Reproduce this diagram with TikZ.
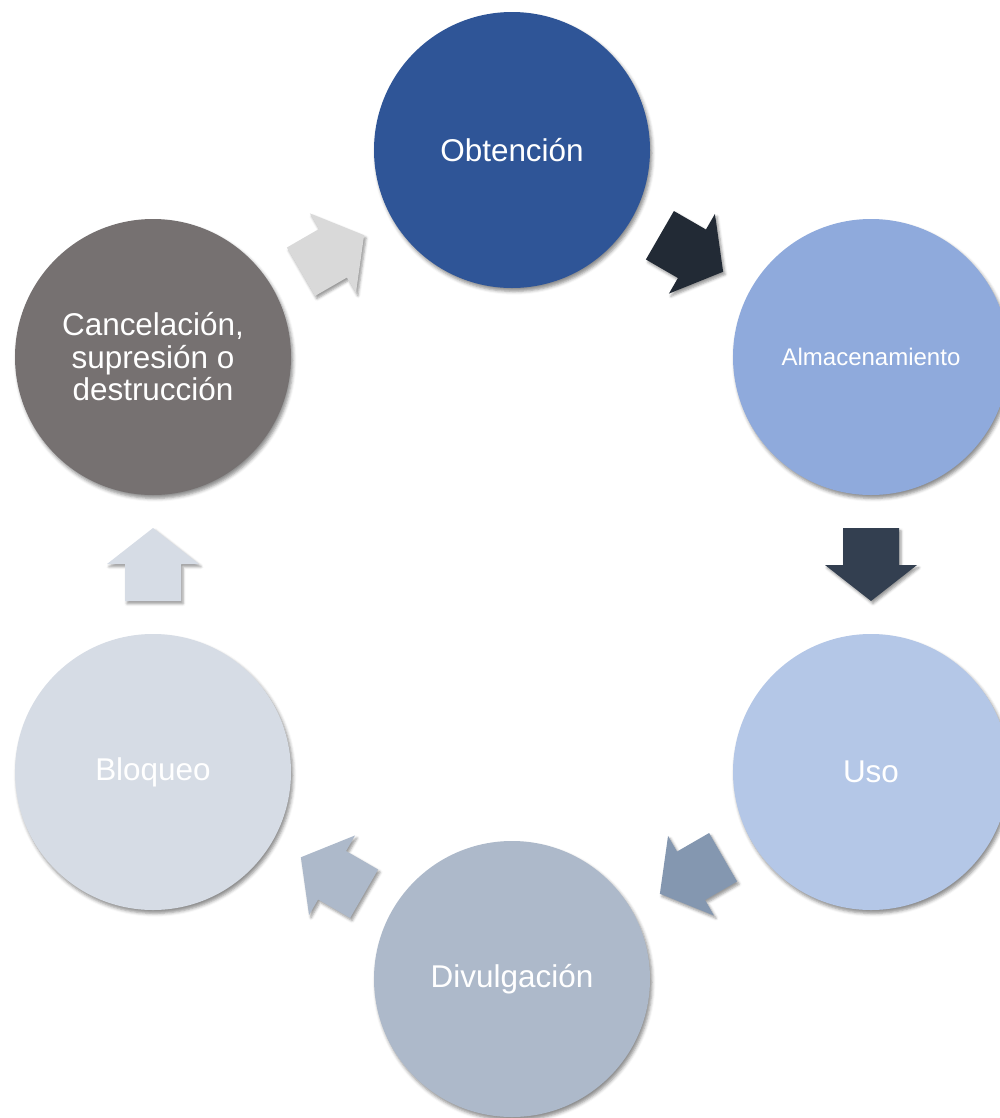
\documentclass[tikz,border=0pt]{standalone}
\usepackage{fontspec}
\setmainfont{Liberation Sans}
\usetikzlibrary{shadows.blur,calc}
\definecolor{cObt}{HTML}{2F5597}
\definecolor{cAlm}{HTML}{8FAADC}
\definecolor{cUso}{HTML}{B4C7E7}
\definecolor{cDiv}{HTML}{ADB9CA}
\definecolor{cBlo}{HTML}{D6DCE5}
\definecolor{cCan}{HTML}{767171}
\definecolor{aOne}{HTML}{222A35}
\definecolor{aTwo}{HTML}{333F50}
\definecolor{aThree}{HTML}{8497B0}
\definecolor{aFour}{HTML}{ADB9CA}
\definecolor{aFive}{HTML}{D6DCE5}
\definecolor{aSix}{HTML}{D9D9D9}
\tikzset{
  stage/.style={circle, minimum size=207pt, inner sep=0pt, draw=none, text=white,
    align=center, font=\fontsize{23.6}{24.4}\selectfont,
    blur shadow={shadow xshift=1.5pt, shadow yshift=-2.5pt, shadow blur radius=2.5pt, shadow opacity=45}},
  blockarrow/.style={draw=none,
    blur shadow={shadow xshift=1.5pt, shadow yshift=-2pt, shadow blur radius=2pt, shadow opacity=40}}
}
\newcommand{\blockarrowpath}{(-36.5,-28) -- (0.5,-28) -- (0.5,-46) -- (36.5,0) -- (0.5,46) -- (0.5,28) -- (-36.5,28) -- cycle}
\begin{document}
\begin{tikzpicture}[x=0.75pt,y=-0.75pt]
\useasboundingbox (0,0) rectangle (1000,1118);
\node[stage, fill=cObt] (obt) at (512,150) {Obtención};
\node[stage, fill=cAlm, font=\fontsize{18}{20}\selectfont] (alm) at (871,357) {Almacenamiento};
\node[stage, fill=cUso] (uso) at (871,772) {Uso};
\node[stage, fill=cDiv] (div) at (512,979) {Divulgación};
\node[stage, fill=cBlo] (blo) at (153,772) {Bloqueo};
\node[stage, fill=cCan] (can) at (153,357) {Cancelación,\\supresión o\\destrucción};
\coordinate (a1) at ($(obt)!0.5!(alm)$);
\coordinate (a2) at ($(alm)!0.5!(uso)$);
\coordinate (a3) at ($(uso)!0.5!(div)$);
\coordinate (a4) at ($(div)!0.5!(blo)$);
\coordinate (a5) at ($(blo)!0.5!(can)$);
\coordinate (a6) at ($(can)!0.5!(obt)$);
\fill[blockarrow, fill=aOne, shift={(a1)}, rotate=-30] \blockarrowpath;
\fill[blockarrow, fill=aTwo, shift={(a2)}, rotate=-90] \blockarrowpath;
\fill[blockarrow, fill=aThree, shift={(a3)}, rotate=-150] \blockarrowpath;
\fill[blockarrow, fill=aFour, shift={(a4)}, rotate=150] \blockarrowpath;
\fill[blockarrow, fill=aFive, shift={(a5)}, rotate=90] \blockarrowpath;
\fill[blockarrow, fill=aSix, shift={(a6)}, rotate=30] \blockarrowpath;
\end{tikzpicture}
\end{document}
